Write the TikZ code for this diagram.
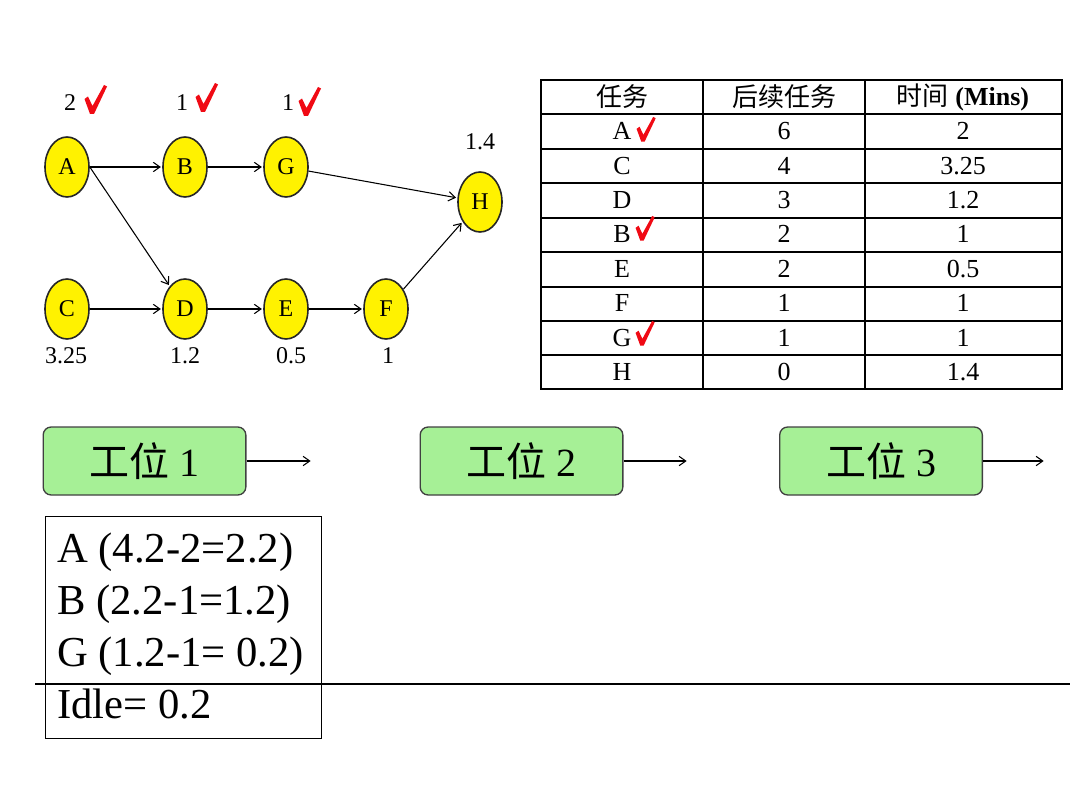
\documentclass[tikz,border=0pt]{standalone}
\usepackage{fontspec}
\setmainfont{Liberation Serif}
\newfontfamily\cjk{Noto Sans CJK SC}
\usetikzlibrary{shapes.geometric,arrows.meta}

\definecolor{stgreen}{RGB}{166,240,150}
\definecolor{tickred}{RGB}{240,10,20}

\tikzset{redtick/.pic={
	\fill[tickred] (-0.5,1) -- (3,-1.5) -- (7.5,8) -- (19,-13) -- (22,-11.5) -- (9,16) -- (5,16) -- cycle;}}

\begin{document}
\begin{tikzpicture}[x=0.75pt,y=-0.75pt]
		\tikzstyle{task}=[ellipse,draw=black!85,fill=yellow,line width=1.2pt,minimum width=33pt,minimum height=45pt,inner sep=0pt,font=\fontsize{18}{18}\selectfont]
		\tikzstyle{dur}=[font=\fontsize{18}{18}\selectfont]
		\tikzstyle{cell}=[anchor=base,font=\fontsize{19.5}{19.5}\selectfont]
		\tikzstyle{station}=[draw=black!75,fill=stgreen,rounded corners=6pt,line width=1pt,minimum width=152pt,minimum height=51pt,font=\fontsize{30}{30}\selectfont]
		\tikzstyle{flow}=[-{Straight Barb[length=5pt,width=7pt]},line width=0.8pt,shorten >=1pt]
		\useasboundingbox (0,0) rectangle (1080,791);
		
		% Draw the task nodes of the precedence graph
		\foreach \name / \x / \y in {A/67/167,B/185/167,G/286/167,H/480/202,C/67/309,D/185/309,E/286/309,F/386/309}
		\node[task] (\name) at (\x,\y) {\name};
		
		% Task times above and below the nodes
		\foreach \name / \x / \y / \t in {A/70/103/2,B/182/103/1,G/288/103/1,H/480/142/1.4,C/66/356/3.25,D/185/356/1.2,E/291/356/0.5,F/388/356/1}
		\node[dur] (t-\name) at (\x,\y) {\t};
		
		% Ticks for the assigned tasks
		\foreach \x / \y in {85/98,196/96,299/100}
		\pic at (\x,\y) {redtick};
		
		% Connect the tasks
		\foreach \source / \dest in {A/B,B/G,G/H,A.east/D,C/D,D/E,E/F,F/H}
		\draw[flow] (\source) -- (\dest);
		
		% Draw the table
		\draw[line width=2.2pt] (541,80) rectangle (1062,389);
		\foreach \x in {703,865}
		\draw[line width=2.2pt] (\x,80) -- (\x,389);
		\foreach \y in {114,149,183,218,252,287,321,355}
		\draw[line width=2.2pt] (541,\y) -- (1062,\y);
		
		\node[font=\fontsize{19.5}{19.5}\selectfont] (head-1) at (622,97) {\cjk 任务};
		\node[font=\fontsize{19.5}{19.5}\selectfont] (head-2) at (784,97) {\cjk 后续任务};
		\node[font=\fontsize{19.5}{19.5}\selectfont] (head-3) at (963,97) {{\cjk 时间} \textbf{(Mins)}};
		
		\foreach \task / \succ / \time [count=\i] in {A/6/2,C/4/3.25,D/3/1.2,B/2/1,E/2/0.5,F/1/1,G/1/1,H/0/1.4}
		{
			\node[cell] (cell-\i-a) at (622,{114+34.4*(\i-0.5)+8.5}) {\task};
			\node[cell] (cell-\i-b) at (784,{114+34.4*(\i-0.5)+8.5}) {\succ};
			\node[cell] (cell-\i-c) at (963,{114+34.4*(\i-0.5)+8.5}) {\time};
		}
		\foreach \x / \y in {637/128,636/227,636/332}
		\pic[scale=0.85] at (\x,\y) {redtick};
		
		% Draw the stations
		\node[station] (S1) at (144.5,461) {{\cjk 工位} 1};
		\node[station] (S2) at (521.5,461) {{\cjk 工位} 2};
		\node[station] (S3) at (881,461) {{\cjk 工位} 3};
		\coordinate (o1) at (312,461);
		\coordinate (o2) at (688,461);
		\coordinate (o3) at (1045,461);
		\foreach \i in {1,2,3}
		\draw[flow] (S\i) -- (o\i);
		
		% Work assigned to station 1
		\node[draw,line width=1pt,minimum width=207pt,minimum height=166.5pt,anchor=north west] (calc) at (45,516) {};
		\foreach \line [count=\i] in {A (4.2-2=2.2),B (2.2-1=1.2),G (1.2-1= 0.2),Idle= 0.2}
		\node[anchor=base west,inner sep=0pt,font=\fontsize{32}{32}\selectfont] (w-\i) at (57,{562+52*(\i-1)}) {\line};
		
		\coordinate (cutL) at (35,684);
		\coordinate (cutR) at (1070,684);
		\draw[line width=0.9pt] (cutL) -- (cutR);
\end{tikzpicture}
\end{document}
